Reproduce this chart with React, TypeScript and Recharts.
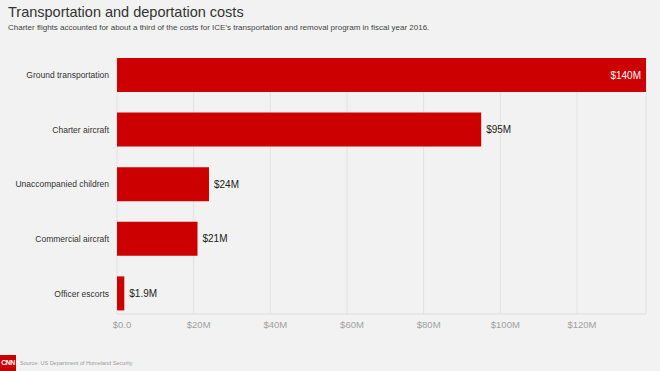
import React from "react"
import { Bar, BarChart, CartesianGrid, LabelList, XAxis, YAxis } from "recharts"

// Program costs, fiscal year 2016 (millions of dollars)
const categories = [
  "Ground transportation",
  "Charter aircraft",
  "Unaccompanied children",
  "Commercial aircraft",
  "Officer escorts",
]
const costs = [138, 95, 24, 21, 1.9]
const costLabels = ["$140M", "$95M", "$24M", "$21M", "$1.9M"]
const xTicks = [0, 20, 40, 60, 80, 100, 120]
const xTickLabels = ["$0.0", "$20M", "$40M", "$60M", "$80M", "$100M", "$120M"]

const data = categories.map((name, i) => ({ name, cost: costs[i], label: costLabels[i] }))

const FONT = "'Liberation Sans', Arial, sans-serif"
const RED = "#cc0000"

const renderValue = (props: any) => {
  const { x, y, width, height, index } = props
  const cy = y + height / 2
  // the longest bar carries its label inside, in white
  if (index === 0) {
    return (
      <text x={x + width - 5} y={cy} dy="0.35em" textAnchor="end" fill="#fff" fontSize={10} fontFamily={FONT}>
        {costLabels[index]}
      </text>
    )
  }
  return (
    <text x={x + width + 5} y={cy} dy="0.35em" textAnchor="start" fill="#222" fontSize={10} fontFamily={FONT}>
      {costLabels[index]}
    </text>
  )
}

// single-line category label (default tick wraps long names)
const CategoryTick = (props: any) => {
  const { x, y, payload } = props
  return (
    <text x={x} y={y} dy="0.35em" textAnchor="end" fill="#333" fontSize={8.5} fontFamily={FONT}>
      {payload.value}
    </text>
  )
}

// axis labels sit a little to the right of their gridline
const ValueTick = (props: any) => {
  const { x, y, payload } = props
  return (
    <text x={x + 5} y={y} dy="0.71em" textAnchor="middle" fill="#a0a0a0" fontSize={9.5} fontFamily={FONT}>
      {xTickLabels[xTicks.indexOf(payload.value)]}
    </text>
  )
}

export default function App() {
  return (
    <div style={{ position: "relative", width: 660, height: 371, background: "#f2f2f2", fontFamily: FONT, overflow: "hidden" }}>
      <style>{`body{margin:0}`}</style>
      <div style={{ position: "absolute", left: 8, top: 4, fontSize: 14.5, fontWeight: 300, color: "#333" }}>
        Transportation and deportation costs
      </div>
      <div style={{ position: "absolute", left: 8, top: 23, fontSize: 8, color: "#444" }}>
        Charter flights accounted for about a third of the costs for ICE's transportation and removal program in fiscal year 2016.
      </div>

      <div style={{ position: "absolute", left: 0, top: 0 }}>
        <BarChart
          width={660}
          height={340}
          data={data}
          layout="vertical"
          margin={{ top: 58, right: 14, bottom: 0, left: 0 }}
        >
          <CartesianGrid horizontal={false} stroke="#e2e2e2" />
          <XAxis
            type="number"
            domain={[0, "dataMax"]}
            ticks={xTicks}
            height={26}
            axisLine={{ stroke: "#dcdcdc" }}
            tickLine={false}
            tickSize={0}
            tickMargin={7}
            tick={<ValueTick />}
          />
          <YAxis
            type="category"
            dataKey="name"
            width={117}
            axisLine={false}
            tickLine={false}
            tickSize={0}
            tickMargin={8}
            padding={{ top: -10, bottom: -7 }}
            tick={<CategoryTick />}
          />
          <Bar dataKey="cost" fill={RED} barSize={34} isAnimationActive={false}>
            <LabelList dataKey="label" content={renderValue} />
          </Bar>
        </BarChart>
      </div>

      <div
        style={{
          position: "absolute",
          left: 0,
          top: 355,
          width: 16,
          height: 16,
          background: RED,
          color: "#fff",
          fontSize: 7,
          fontWeight: 700,
          lineHeight: "16px",
          textAlign: "center",
          letterSpacing: -0.5,
        }}
      >
        CNN
      </div>
      <div style={{ position: "absolute", left: 20, top: 360, fontSize: 5.5, color: "#9a9a9a" }}>
        Source: US Department of Homeland Security
      </div>
    </div>
  )
}
